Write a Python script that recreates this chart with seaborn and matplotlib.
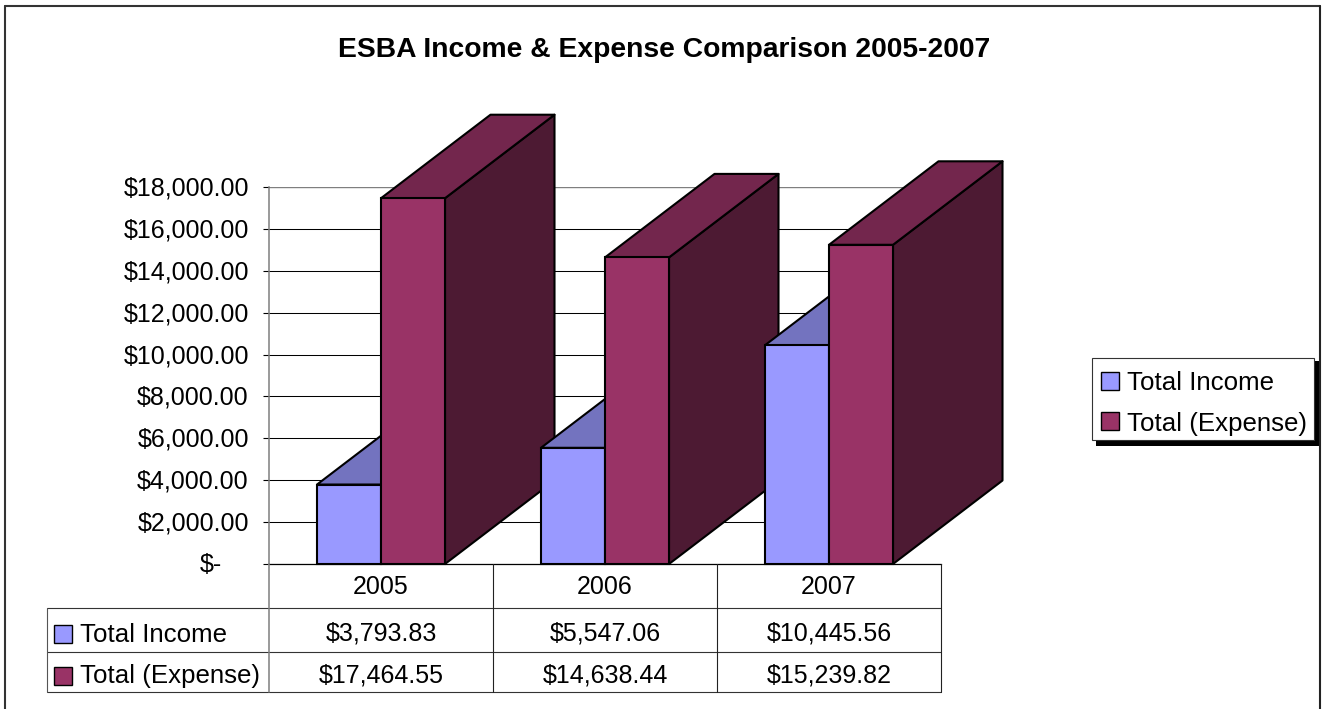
import matplotlib
matplotlib.use("Agg")
import matplotlib.pyplot as plt
import pandas as pd
import seaborn as sns
from matplotlib.lines import Line2D
from matplotlib.patches import Polygon, Rectangle
from matplotlib.transforms import Affine2D, ScaledTranslation

years = ["2005", "2006", "2007"]
series_names = ["Total Income", "Total (Expense)"]
income = [3793.83, 5547.06, 10445.56]
expense = [17464.55, 14638.44, 15239.82]
y_ticks = [0, 2000, 4000, 6000, 8000, 10000, 12000, 14000, 16000, 18000]

W, H = 1325, 709
FRONT = {"Total Income": "#9999FF", "Total (Expense)": "#993366"}
TOP = {"Total Income": "#7373BF", "Total (Expense)": "#73264D"}
SIDE = {"Total Income": "#4D4D80", "Total (Expense)": "#4D1A33"}
DEPTH_X = 109.5 / 224
DEPTH_Y = 83.5 / 377 * 18000
FS = 18
FS_NAME = 18.6
FS_TITLE = 20.3
EDGE = 1.5

sns.set_theme(style="white")
plt.rcParams["font.family"] = ["Liberation Sans", "DejaVu Sans"]

df = pd.DataFrame({
    "Year": years * 2,
    "Series": [series_names[0]] * 3 + [series_names[1]] * 3,
    "Value": income + expense,
})

fig = plt.figure(figsize=(W / 100, H / 100), dpi=100, facecolor="white")
# Pixel-based transform for the frame, data table and title
px = Affine2D().scale(1 / W, -1 / H).translate(0, 1) + fig.transFigure

ax = fig.add_axes([269 / W, (H - 564) / H, (941 - 269) / W, (564 - 187) / H])
ax.set_facecolor("none")
sns.barplot(data=df, x="Year", y="Value", hue="Series", hue_order=series_names,
            palette=FRONT, width=4 / 7, saturation=1, edgecolor="black",
            linewidth=EDGE, ax=ax, legend=False)
ax.set_xlim(-0.5, 2.5)
ax.set_ylim(0, 18000)
ax.set_xlabel("")
ax.set_ylabel("")
ax.set_xticks([])
ax.set_yticks(y_ticks)
ax.set_yticklabels(["$-" if v == 0 else f"${v:,.2f}" for v in y_ticks],
                   fontsize=FS, color="black")
ax.tick_params(axis="y", left=True, length=4.3, width=0.8, color="black", pad=10.2)
ax.yaxis.grid(True, color="black", linewidth=0.75)
ax.get_ygridlines()[-1].set_color("#7f7f7f")
ax.get_ygridlines()[-1].set_linewidth(1.0)
ax.set_axisbelow(True)
for name, spine in ax.spines.items():
    spine.set_visible(name in ("left", "bottom"))
ax.spines["left"].set_color("#7f7f7f")
ax.spines["left"].set_linewidth(1.1)
ax.spines["bottom"].set_color("black")
ax.spines["bottom"].set_linewidth(0.9)

# Lift the tick labels slightly; the accounting format also pushes the zero
# label to the left of the others
for k, label in enumerate(ax.get_yticklabels()):
    shift_x = -27 / 100 if k == 0 else 0
    label.set_transform(label.get_transform()
                        + ScaledTranslation(shift_x, 1 / 100, fig.dpi_scale_trans))

# Extrude each bar into a box: later bars overlap earlier ones
bars = [p for p in ax.patches if isinstance(p, Rectangle) and p.get_height() > 0]
names = [series_names[0]] * 3 + [series_names[1]] * 3
order = sorted(range(len(bars)), key=lambda i: bars[i].get_x())
for z, i in enumerate(order):
    bar, name = bars[i], names[i]
    x0, x1, h = bar.get_x(), bar.get_x() + bar.get_width(), bar.get_height()
    base = 3 + z * 0.1
    side = Polygon([(x1, 0), (x1 + DEPTH_X, DEPTH_Y), (x1 + DEPTH_X, h + DEPTH_Y), (x1, h)],
                   facecolor=SIDE[name], edgecolor="black", linewidth=EDGE,
                   joinstyle="round", clip_on=False, zorder=base)
    top = Polygon([(x0, h), (x1, h), (x1 + DEPTH_X, h + DEPTH_Y), (x0 + DEPTH_X, h + DEPTH_Y)],
                  facecolor=TOP[name], edgecolor="black", linewidth=EDGE,
                  joinstyle="round", clip_on=False, zorder=base + 0.01)
    ax.add_patch(side)
    ax.add_patch(top)
    bar.set_zorder(base + 0.02)
    bar.set_clip_on(False)


def fig_line(xs, ys, color="black", lw=0.8):
    fig.add_artist(Line2D(xs, ys, transform=px, color=color, linewidth=lw))


def fig_text(x, y, s, ha="center", size=FS, **kw):
    fig.text(x, y, s, transform=px, ha=ha, va="center_baseline", fontsize=size,
             color="black", parse_math=False, **kw)


# Outer chart frame
fig_line([5, 5], [H, 6], color="#333333", lw=1.5)
fig_line([5, 1320], [6, 6], color="#333333", lw=1.5)
fig_line([1320, 1320], [6, H], color="#222222", lw=1.5)

fig_text(664, 47, "ESBA Income & Expense Comparison 2005-2007",
         size=FS_TITLE, fontweight="bold")

# Data table below the plot
for y in (608, 652, 692):
    fig_line([47, 941], [y, y], color="#333333")
fig_line([47, 47], [608, 692], color="#555555")
fig_line([269, 269], [564, 692], color="#7f7f7f", lw=1.1)
for x in (493, 717, 941):
    fig_line([x, x], [564, 692], color="#222222")

centers = [381, 605, 829]
rows = [(633, 631, series_names[0], income, 625), (674, 673, series_names[1], expense, 667)]
for cx, year in zip(centers, years):
    fig_text(cx, 585, year)
for label_y, value_y, name, values, sw in rows:
    fig.add_artist(Rectangle((54, sw), 18, 18, transform=px, facecolor=FRONT[name],
                             edgecolor="black", linewidth=1.0))
    fig_text(80, label_y, name, ha="left", size=FS_NAME)
    for cx, v in zip(centers, values):
        fig_text(cx, value_y, f"${v:,.2f}")

# Legend with a hard drop shadow
fig.add_artist(Rectangle((1096, 361), 224, 85, transform=px, facecolor="black", edgecolor="none"))
fig.add_artist(Rectangle((1092, 358), 222, 82, transform=px, facecolor="white",
                         edgecolor="#333333", linewidth=0.8))
for name, sw, ty in ((series_names[0], 372, 380), (series_names[1], 412, 421)):
    fig.add_artist(Rectangle((1101, sw), 18, 18, transform=px, facecolor=FRONT[name],
                             edgecolor="black", linewidth=1.0))
    fig_text(1127, ty, name, ha="left", size=FS_NAME)

fig.savefig("out.png", dpi=100, facecolor="white")
